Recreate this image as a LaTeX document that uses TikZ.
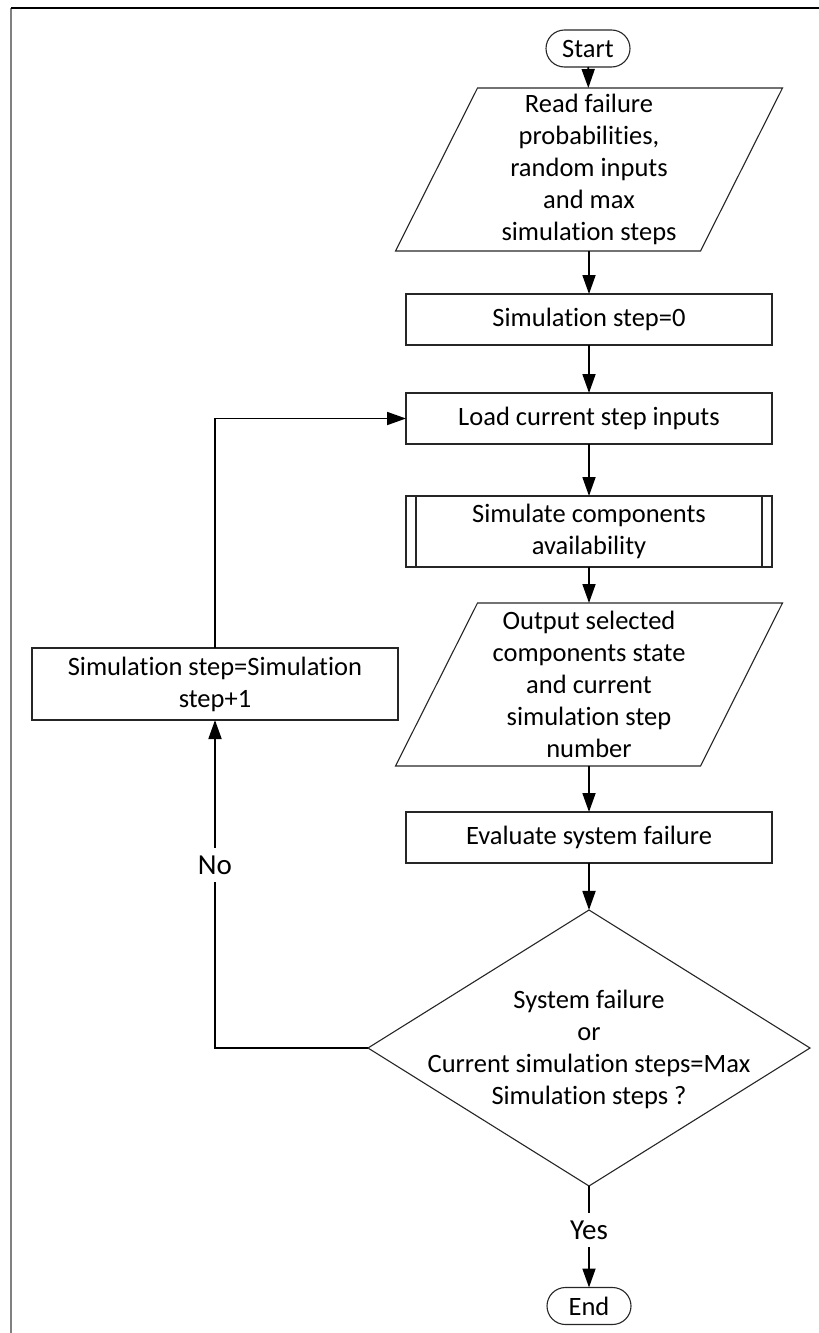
\documentclass[tikz,border=0pt]{standalone}
\usepackage{fontspec}
\setmainfont[Ligatures=NoCommon]{Carlito}
\usetikzlibrary{shapes.geometric,shapes.misc,arrows.meta}
\begin{document}
\begin{tikzpicture}[x=1pt,y=-1pt,
  every node/.style={font=\fontsize{26.5}{32}\selectfont},
  shapeline/.style={draw=black!85, line width=1.1pt},
  box/.style={shapeline, rectangle, minimum width=366pt, minimum height=51pt,
    inner sep=0pt, outer sep=0pt, align=center},
  terminal/.style={shapeline, rounded rectangle, minimum width=84pt,
    minimum height=37pt, inner sep=0pt, outer sep=0pt},
  iobody/.style={rectangle, minimum width=305pt, minimum height=163pt,
    inner sep=0pt, outer sep=0pt, align=center},
  decision/.style={shapeline, diamond, minimum width=442pt, minimum height=276pt,
    inner sep=0pt, outer sep=0pt},
  conn/.style={line width=1.8pt, -{Triangle[length=19pt,width=13pt]}},
  branch/.style={font=\fontsize{29}{34}\selectfont, fill=white, inner sep=8pt}
]
\useasboundingbox (0,0) rectangle (819,1333);

% page frame
\draw[black!50, line width=1.8pt] (11,8) -- (11,1333);
\draw[black, line width=1.2pt] (11,8) -- (819,8);

% flowchart nodes
\node[terminal] (start) at (588,48.5) {Start};
\node[iobody] (read) at (589,169.5) {Read failure\\probabilities,\\random inputs\\and max\\simulation steps};
\draw[shapeline] ([xshift=41pt]read.north west) -- ([xshift=41pt]read.north east)
  -- ([xshift=-41pt]read.south east) -- ([xshift=-41pt]read.south west) -- cycle;
\node[box] (zero) at (589,319.5) {Simulation step=0};
\node[box] (load) at (589,418.5) {Load current step inputs};
\node[box, minimum height=71pt] (sim) at (589,531.5) {Simulate components\\availability};
\draw[shapeline] ([xshift=10pt]sim.north west) -- ([xshift=10pt]sim.south west);
\draw[shapeline] ([xshift=-10pt]sim.north east) -- ([xshift=-10pt]sim.south east);
\node[iobody] (out) at (589,684.5) {Output selected\\components state\\and current\\simulation step\\number};
\draw[shapeline] ([xshift=41pt]out.north west) -- ([xshift=41pt]out.north east)
  -- ([xshift=-41pt]out.south east) -- ([xshift=-41pt]out.south west) -- cycle;
\node[box] (eval) at (589,837.5) {Evaluate system failure};
\node[decision] (dec) at (589,1048) {};
\node[align=center] (dectext) at (589,1049) {System failure\\or\\Current simulation steps=Max\\Simulation steps ?};
\node[box, minimum height=72pt] (inc) at (215,684) {Simulation step=Simulation\\step+1};
\node[terminal] (end) at (589,1306) {End};

% connectors
\draw[conn] (start) -- (read);
\draw[conn] (read) -- (zero);
\draw[conn] (zero) -- (load);
\draw[conn] (load) -- (sim);
\draw[conn] (sim) -- (out);
\draw[conn] (out) -- (eval);
\draw[conn] (eval) -- (dec);
\draw[conn] (dec.south) -- (end.north);
\draw[conn] (dec.west) -| (inc.south);
\draw[conn] (inc.north) |- (load.west);

% branch labels
\node[branch] (yes) at (589,1230) {Yes};
\node[branch] (no) at (215,865) {No};
\end{tikzpicture}
\end{document}
